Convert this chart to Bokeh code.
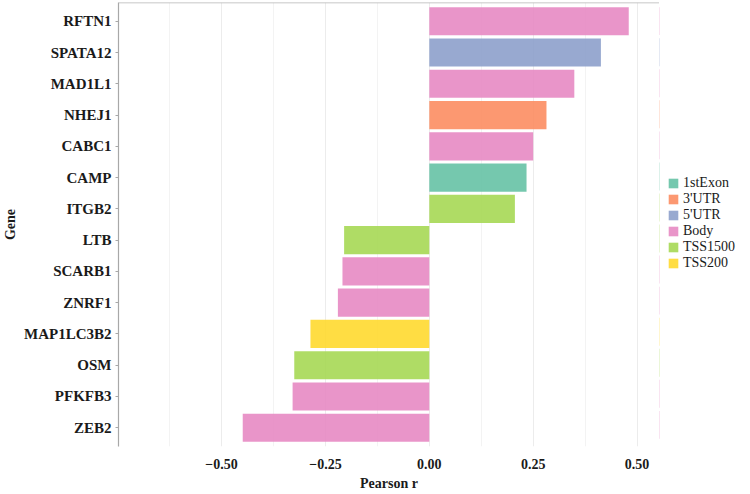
from bokeh.plotting import figure
from bokeh.layouts import row
from bokeh.models import Range1d, FixedTicker, Span, Legend, LegendItem, ColumnDataSource
from bokeh.embed import file_html
from bokeh.resources import INLINE

# ---- data (top to bottom as shown) ----
genes = ["RFTN1", "SPATA12", "MAD1L1", "NHEJ1", "CABC1", "CAMP", "ITGB2",
         "LTB", "SCARB1", "ZNRF1", "MAP1LC3B2", "OSM", "PFKFB3", "ZEB2"]
pearson_r = [0.480, 0.413, 0.349, 0.282, 0.250, 0.234, 0.206,
             -0.205, -0.209, -0.220, -0.286, -0.325, -0.329, -0.449]
region = ["Body", "5'UTR", "Body", "3'UTR", "Body", "1stExon", "TSS1500",
          "TSS1500", "Body", "Body", "TSS200", "TSS1500", "Body", "Body"]
categories = ["1stExon", "3'UTR", "5'UTR", "Body", "TSS1500", "TSS200"]
palette = ["#66C2A5", "#FC8D62", "#8DA0CB", "#E78AC3", "#A6D854", "#FFD92F"]
x_ticks = [-0.5, -0.25, 0.0, 0.25, 0.5]
x_tick_labels = ["\u22120.50", "\u22120.25", "0.00", "0.25", "0.50"]
x_minor = [-0.625, -0.375, -0.125, 0.125, 0.375]

FONT = "Liberation Serif"
n = len(genes)
ypos = [n - i for i in range(n)]  # first gene at top

TOTAL_H = 490
p = figure(frame_width=541, frame_height=444, output_backend="svg", toolbar_location=None,
           x_range=Range1d(-0.748, 0.554), y_range=Range1d(0.4, n + 0.6),
           min_border_left=2, min_border_right=0, min_border_top=2, min_border_bottom=0)
p.outline_line_color = None
p.background_fill_color = "white"

sources = []
for cat, col in zip(categories, palette):
    idx = [i for i, r in enumerate(region) if r == cat]
    src = ColumnDataSource(dict(y=[ypos[i] for i in idx], r=[pearson_r[i] for i in idx]))
    sources.append(src)
    p.hbar(y="y", left=0, right="r", height=0.9, source=src,
           fill_color=col, fill_alpha=0.9, line_color=None)

# top border line
p.add_layout(Span(location=n + 0.6, dimension="width", line_color="#b5b5b5", line_width=1.5))

# x axis
p.xaxis.ticker = FixedTicker(ticks=x_ticks, minor_ticks=x_minor)
p.xaxis.major_label_overrides = {t: l for t, l in zip(x_ticks, x_tick_labels)}
p.xaxis.axis_line_color = None
p.xaxis.major_tick_line_color = None
p.xaxis.minor_tick_line_color = None
p.xaxis.major_label_text_font = FONT
p.xaxis.major_label_text_font_size = "14px"
p.xaxis.major_label_text_font_style = "bold"
p.xaxis.major_label_text_color = "#1a1a1a"
p.xaxis.major_label_standoff = 6
p.xaxis.axis_label = "Pearson r"
p.xaxis.axis_label_text_font = FONT
p.xaxis.axis_label_text_font_size = "14px"
p.xaxis.axis_label_text_font_style = "bold"
p.xaxis.axis_label_text_color = "#1a1a1a"
p.xaxis.axis_label_standoff = 4

# y axis
p.yaxis.ticker = FixedTicker(ticks=ypos, minor_ticks=[])
p.yaxis.major_label_overrides = {y: g for y, g in zip(ypos, genes)}
p.yaxis.axis_line_color = "#a8a8a8"
p.yaxis.axis_line_width = 1.2
p.yaxis.major_tick_line_color = "#a8a8a8"
p.yaxis.major_tick_out = 3
p.yaxis.major_tick_in = 0
p.yaxis.minor_tick_line_color = None
p.yaxis.major_label_text_font = FONT
p.yaxis.major_label_text_font_size = "15px"
p.yaxis.major_label_text_font_style = "bold"
p.yaxis.major_label_text_color = "#1a1a1a"
p.yaxis.major_label_standoff = 4
p.yaxis.axis_label = "Gene"
p.yaxis.axis_label_text_font = FONT
p.yaxis.axis_label_text_font_size = "14px"
p.yaxis.axis_label_text_font_style = "bold"
p.yaxis.axis_label_text_color = "#1a1a1a"
p.yaxis.axis_label_standoff = 3

# grids
p.ygrid.grid_line_color = None
p.xgrid.grid_line_color = "#ececec"
p.xgrid.grid_line_width = 1
p.xgrid.minor_grid_line_color = "#f3f3f3"
p.xgrid.minor_grid_line_width = 1

# ---- legend panel (same sources; x range chosen so the bars fall off-canvas) ----
q = figure(width=77, height=TOTAL_H, output_backend="svg", toolbar_location=None,
           x_axis_type=None, y_axis_type=None, x_range=Range1d(10, 11),
           y_range=Range1d(0.4, n + 0.6),
           min_border_left=0, min_border_right=0, min_border_top=2, min_border_bottom=44)
q.outline_line_color = None
q.grid.visible = False
items = []
for cat, col, src in zip(categories, palette, sources):
    r = q.hbar(y="y", left=0, right="r", height=0.9, source=src,
               fill_color=col, fill_alpha=0.9, line_color=None)
    items.append(LegendItem(label=cat, renderers=[r]))
legend = Legend(items=items, location="left", border_line_color=None,
                background_fill_alpha=0, margin=8, padding=2,
                glyph_width=12, glyph_height=12, label_height=12, spacing=-2,
                label_standoff=4, label_text_font=FONT, label_text_font_size="14px",
                label_text_color="#1a1a1a")
q.add_layout(legend)

layout = row(p, q, spacing=0)
open("out.html", "w").write(file_html(layout, INLINE))
